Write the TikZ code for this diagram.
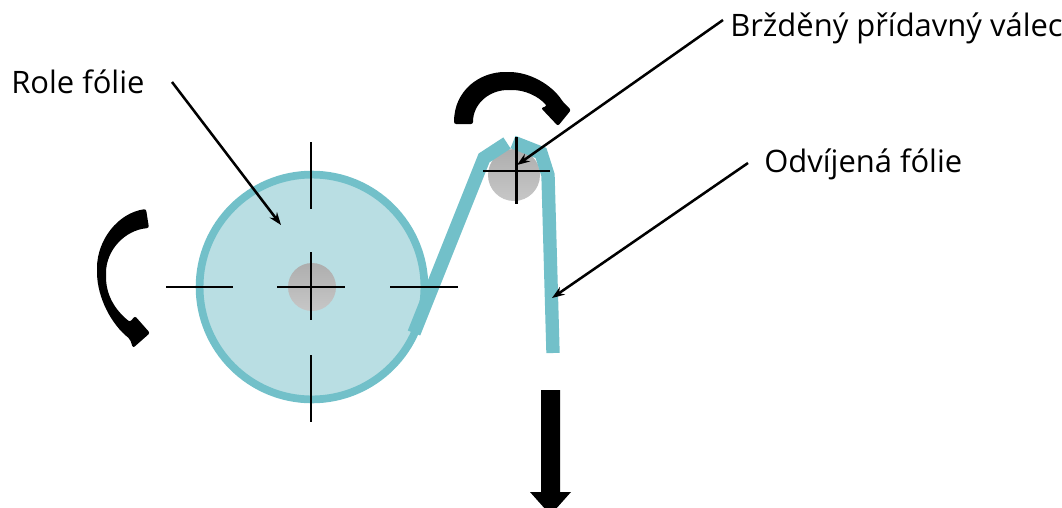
\documentclass[tikz,border=0pt]{standalone}
\usepackage{fontspec}
\setmainfont{Open Sans}
\usepackage{xcolor}
\usetikzlibrary{arrows.meta}
\definecolor{foilc}{HTML}{72C0C9}
\definecolor{rollc}{HTML}{B9DEE3}
\definecolor{corec}{HTML}{BDBDBD}

\begin{document}
\begin{tikzpicture}[x=0.025cm, y=-0.025cm, >={Stealth[length=9pt, width=6.5pt]},
    label/.style={font=\fontsize{22}{26}\selectfont, inner sep=0pt, anchor=west},
    leader/.style={->, line width=1.8pt, black},
    cross/.style={line width=1.8pt, black},
    hub/.style={circle, top color=corec!92!black, bottom color=corec!85!white, inner sep=0pt},
    foil/.style={foilc, line width=9.5pt, line join=miter}]
    \useasboundingbox (0,0) rectangle (1062,507);
    \clip (0,0) rectangle (1062,507);

    % roll and roller
    \node[circle, draw=foilc, fill=rollc, line width=5.5pt, minimum size=5.62cm, inner sep=0pt] (roll) at (312,287) {};
    \node[hub, minimum size=1.2cm] (core) at (312,287) {};
    \node[hub, minimum size=1.3cm] (roller) at (514,175) {};

    % foil
    \coordinate (f1) at (414,333);
    \coordinate (f2) at (484,158);
    \coordinate (f3) at (507,143);
    \coordinate (f4) at (513,142);
    \coordinate (f5) at (541,153);
    \coordinate (f6) at (548,175);
    \coordinate (f7) at (553,353);
    \draw[foil] (f1) -- (f2) -- (f3) (f4) -- (f5) -- (f6) -- (f7);

    % crosshairs
    \draw[cross] (311,142) -- (311,209) (311,252) -- (311,320) (311,355) -- (311,422);
    \draw[cross] (166,287) -- (233,287) (277,287) -- (345,287) (390,287) -- (458,287);
    \draw[cross] (516.5,137) -- (516.5,204) (483,171) -- (550,171);

    % labels
    \node[label] (role) at (11,82) {Role fólie};
    \node[label] (brake) at (730,28) {Bržděný přídavný válec};
    \node[label] (free) at (764,164) {Odvíjená fólie};

    \coordinate (a1) at (172,82);
    \coordinate (a2) at (281,225);
    \coordinate (b1) at (723,20);
    \coordinate (b2) at (517,165);
    \coordinate (c1) at (748,163);
    \coordinate (c2) at (552,298);
    \draw[leader] (a1) -- (a2);
    \draw[leader] (b1) -- (b2);
    \draw[leader] (c1) -- (c2);

    % rotation and pull arrows
    \fill[rounded corners=1.5pt] (454,124) .. controls (454,90) and (480,72) .. (507,72)
        .. controls (530,72) and (552,85) .. (563,102) -- (571,110) -- (558,126) -- (541,108) -- (547,106)
        .. controls (538,96) and (525,90) .. (510,90)
        .. controls (490,90) and (473,103) .. (473,124) -- cycle;
    \fill[rounded corners=1.5pt] (146,209) .. controls (118,213) and (97,240) .. (97,270)
        .. controls (97,298) and (112,325) .. (130,339) -- (133,348) -- (150,333) -- (135,316) -- (130,322)
        .. controls (115,310) and (106,295) .. (106,275)
        .. controls (106,250) and (125,230) .. (149,228) -- cycle;
    \fill (541,390) -- (560,390) -- (560,492) -- (571,492) -- (550.5,515) -- (530,492) -- (541,492) -- cycle;
\end{tikzpicture}
\end{document}
